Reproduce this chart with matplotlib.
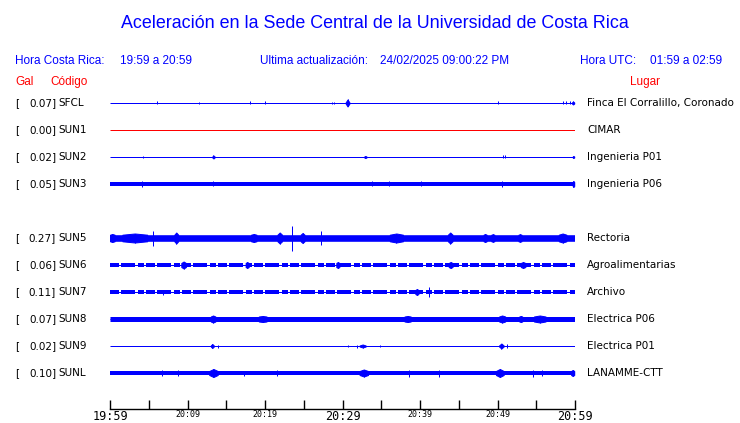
"""Aceleración en la Sede Central — 1 h de trazas por estación (réplica del panel web)."""
import matplotlib
matplotlib.use("Agg")
import matplotlib.pyplot as plt
from matplotlib.transforms import blended_transform_factory

# --- datos -----------------------------------------------------------------
codes = ["SFCL", "SUN1", "SUN2", "SUN3", "SUN5", "SUN6", "SUN7", "SUN8", "SUN9", "SUNL"]
pga_gal = [0.07, 0.00, 0.02, 0.05, 0.27, 0.06, 0.11, 0.07, 0.02, 0.10]
places = ["Finca El Corralillo, Coronado", "CIMAR", "Ingenieria P01", "Ingenieria P06",
          "Rectoria", "Agroalimentarias", "Archivo", "Electrica P06", "Electrica P01",
          "LANAMME-CTT"]
# semi-ancho del ruido de fondo (px) y si la traza se ve "cortada"
base_amp = [0.5, 0.5, 0.5, 2.0, 3.3, 2.0, 2.0, 2.5, 0.5, 2.0]
choppy = [False, False, False, False, False, True, True, False, False, False]
no_data = [False, True, False, False, False, False, False, False, False, False]

# ráfagas: (min inicio, min fin, semi-amplitud px), minutos desde 19:59
bursts_sfcl = [(6.1, 6.1, 1.5), (11.5, 11.5, 1.0), (18.1, 18.1, 1.5), (20.0, 20.0, 1.5),
               (28.6, 28.6, 1.0), (28.9, 28.9, 1.0), (30.4, 30.9, 3.5), (50.1, 50.1, 1.5),
               (58.5, 58.5, 1.5), (58.9, 58.9, 1.5), (59.3, 59.3, 1.5), (59.6, 59.9, 1.5)]
bursts_sun1 = []
bursts_sun2 = [(4.3, 4.3, 1.0), (13.2, 13.5, 1.5), (32.8, 33.1, 1.0), (50.7, 50.7, 1.5),
               (51.0, 51.0, 1.5), (59.7, 59.9, 1.0)]
bursts_sun3 = [(4.1, 4.1, 3.0), (13.3, 13.3, 2.5), (33.8, 33.8, 2.5), (36.0, 36.0, 2.5),
               (40.1, 40.1, 2.5), (50.6, 50.6, 3.0), (59.7, 59.9, 3.0)]
bursts_sun5 = [(0.0, 0.6, 4.0), (1.6, 4.8, 4.5), (5.5, 5.5, 7.5), (8.3, 8.8, 5.5),
               (18.2, 18.9, 4.0), (21.6, 22.2, 5.5), (23.5, 23.5, 12.5), (24.6, 25.1, 5.0),
               (27.2, 27.2, 7.0), (36.1, 37.8, 4.5), (43.6, 44.2, 5.5), (48.2, 48.6, 4.0),
               (49.2, 49.6, 3.8), (52.7, 53.1, 3.8), (57.9, 58.9, 4.5)]
bursts_sun6 = [(9.2, 9.8, 3.5), (17.5, 17.9, 3.0), (29.2, 29.6, 3.0), (43.7, 44.2, 3.0),
               (53.0, 53.6, 3.0)]
bursts_sun7 = [(6.8, 6.8, 2.5), (39.4, 39.8, 3.0), (41.2, 41.2, 5.0)]
bursts_sun8 = [(13.0, 13.6, 3.5), (19.2, 20.2, 3.0), (38.0, 38.8, 3.0), (50.2, 51.0, 3.5),
               (52.8, 53.2, 3.0), (54.7, 56.2, 3.5)]
bursts_sun9 = [(13.0, 13.4, 2.0), (13.9, 13.9, 1.5), (30.7, 30.7, 1.0), (31.9, 31.9, 1.5),
               (32.2, 33.0, 1.5), (34.8, 34.8, 1.0), (50.2, 50.8, 2.5), (51.2, 51.2, 2.0)]
bursts_sunl = [(6.7, 6.7, 3.0), (8.8, 8.8, 3.0), (12.8, 13.9, 4.0), (17.3, 17.3, 2.5),
               (21.5, 21.5, 3.0), (32.2, 33.3, 3.5), (38.6, 38.6, 3.5), (42.5, 42.5, 3.5),
               (49.8, 50.8, 4.0), (54.6, 54.6, 3.5), (55.7, 55.7, 3.0), (59.5, 59.9, 3.0)]
bursts = [bursts_sfcl, bursts_sun1, bursts_sun2, bursts_sun3, bursts_sun5,
          bursts_sun6, bursts_sun7, bursts_sun8, bursts_sun9, bursts_sunl]

tick_minutes = list(range(0, 61, 5))
tick_labels = ["19:59", "", "20:09", "", "20:19", "", "20:29", "", "20:39", "", "20:49", "", "20:59"]
big_labels = {"19:59", "20:29", "20:59"}

# --- layout ------------------------------------------------------------------
W, H = 740, 423
rows = [0, 1, 2, 3, 5, 6, 7, 8, 9, 10]     # SUN4 falta: fila vacía
Y0, STEP = 103, 27                          # px
BLUE, RED = "#0000ff", "#ff0000"
PX = 72 / 100                               # 1 px en puntos

plt.rcParams["lines.scale_dashes"] = False

fig = plt.figure(figsize=(W / 100, H / 100), dpi=100)
ax = fig.add_axes([110 / W, (H - 409) / H, 465 / W, (409 - 88) / H])
ax.set_xlim(0, 60)
ax.set_ylim(409, 88)

for i, code in enumerate(codes):
    y = Y0 + STEP * rows[i]
    col = RED if no_data[i] else BLUE
    b = base_amp[i]
    ax.plot([0, 60], [y, y], color=col, lw=1.0 * PX, solid_capstyle="butt")
    if b > 0.5:
        kw = dict(dashes=(9 * PX, 2 * PX, 14 * PX, 3 * PX, 6 * PX, 2 * PX)) if choppy[i] else {}
        ax.plot([0, 60], [y, y], color=col, lw=2 * b * PX,
                solid_capstyle="butt", dash_capstyle="butt", **kw)
    for t0, t1, a in bursts[i]:
        if t1 > t0:
            # huso: sube desde el fondo hasta la amplitud en el centro
            xs = [t0, (t0 + t1) / 2, t1]
            ax.fill_between(xs, [y - b, y - a, y - b], [y + b, y + a, y + b],
                            color=col, lw=1.0 * PX)
            ax.vlines((t0 + t1) / 2, y - a, y + a, color=col, lw=1.0 * PX)
        else:
            ax.vlines(t0, y - a, y + a, color=col, lw=1.0 * PX)

ax.set_xticks(tick_minutes)
ax.set_xticklabels(tick_labels, family="DejaVu Sans Mono")
for lab in ax.get_xticklabels():
    lab.set_fontsize(8.5 if lab.get_text() in big_labels else 6)
ax.tick_params(axis="x", direction="in", length=9 * PX, width=1, pad=0.5)
ax.set_yticks([])
for s in ["top", "left", "right"]:
    ax.spines[s].set_visible(False)
ax.spines["bottom"].set_linewidth(1)
ax.patch.set_alpha(0)

# --- textos ------------------------------------------------------------------
def ftxt(x, y, s, **kw):
    fig.text(x / W, 1 - y / H, s, va="center_baseline", **kw)

hdr = dict(family="Liberation Sans", fontsize=8.5, color=BLUE)
ftxt(375, 22, "Aceleración en la Sede Central de la Universidad de Costa Rica",
     ha="center", family="Liberation Sans", fontsize=12.9, color=BLUE)
ftxt(15, 60, "Hora Costa Rica:", **hdr)
ftxt(120, 60, "19:59 a 20:59", **hdr)
ftxt(260, 60, "Ultima actualización:", **hdr)
ftxt(380, 60, "24/02/2025 09:00:22 PM", **hdr)
ftxt(580, 60, "Hora UTC:", **hdr)
ftxt(650, 60, "01:59 a 02:59", **hdr)
red = dict(family="Liberation Sans", fontsize=8.5, color=RED)
ftxt(15, 80, "Gal", **red)
ftxt(50, 80, "Código", **red)
ftxt(630, 80, "Lugar", **red)

tr = blended_transform_factory(fig.transFigure, ax.transData)
lab = dict(family="DejaVu Sans", fontsize=7.5, color="black", va="center", transform=tr)
for i, code in enumerate(codes):
    y = Y0 + STEP * rows[i]
    ax.text(15 / W, y, "[", **lab)
    ax.text(56 / W, y, f"{pga_gal[i]:.2f}]", ha="right", **lab)
    ax.text(58 / W, y, code, **lab)
    ax.text(587 / W, y, places[i], **lab)

fig.savefig("out.png", dpi=100)
